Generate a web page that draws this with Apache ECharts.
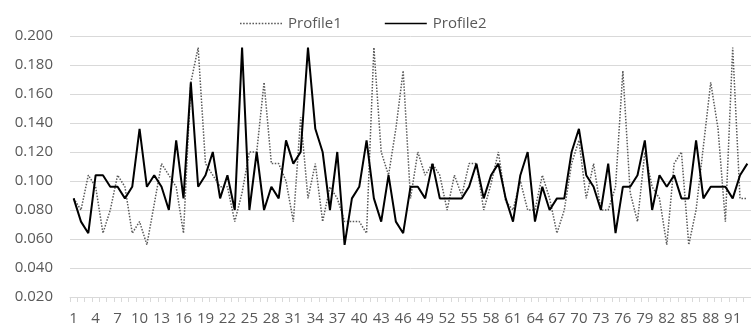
<!DOCTYPE html>
<html>
<head>
<meta charset="utf-8">
<script src="https://cdn.jsdelivr.net/npm/echarts@6/dist/echarts.min.js"></script>
<style>
html,body{margin:0;padding:0;background:#fff;}
#chart{width:751px;height:326px;}
</style>
</head>
<body>
<div id="chart"></div>
<script>
const categories = [1,2,3,4,5,6,7,8,9,10,11,12,13,14,15,16,17,18,19,20,21,22,23,24,25,26,27,28,29,30,31,32,33,34,35,36,37,38,39,40,41,42,43,44,45,46,47,48,49,50,51,52,53,54,55,56,57,58,59,60,61,62,63,64,65,66,67,68,69,70,71,72,73,74,75,76,77,78,79,80,81,82,83,84,85,86,87,88,89,90,91,92,93];

const profile1 = [0.088,0.080,0.104,0.096,0.064,0.080,0.104,0.096,0.064,0.072,
0.056,0.084,0.112,0.104,0.096,0.064,0.168,0.192,0.112,0.104,
0.096,0.096,0.072,0.092,0.120,0.120,0.168,0.112,0.112,0.100,
0.072,0.144,0.088,0.112,0.072,0.096,0.088,0.072,0.072,0.072,
0.064,0.192,0.120,0.104,0.136,0.176,0.088,0.120,0.104,0.112,
0.104,0.080,0.104,0.090,0.112,0.112,0.080,0.098,0.120,0.086,
0.080,0.100,0.080,0.080,0.104,0.088,0.064,0.080,0.112,0.128,
0.088,0.112,0.080,0.080,0.096,0.176,0.092,0.072,0.120,0.096,
0.088,0.056,0.112,0.120,0.056,0.080,0.124,0.168,0.136,0.072,
0.192,0.088,0.088];

const profile2 = [0.088,0.072,0.064,0.104,0.104,0.096,0.096,0.088,0.096,0.136,
0.096,0.104,0.096,0.080,0.128,0.088,0.168,0.096,0.104,0.120,
0.088,0.104,0.080,0.192,0.080,0.120,0.080,0.096,0.088,0.128,
0.112,0.120,0.192,0.136,0.120,0.080,0.120,0.056,0.088,0.096,
0.128,0.088,0.072,0.104,0.072,0.064,0.096,0.096,0.088,0.112,
0.088,0.088,0.088,0.088,0.096,0.112,0.088,0.104,0.112,0.088,
0.072,0.104,0.120,0.072,0.096,0.080,0.088,0.088,0.120,0.136,
0.104,0.096,0.080,0.112,0.064,0.096,0.096,0.104,0.128,0.080,
0.104,0.096,0.104,0.088,0.088,0.128,0.088,0.096,0.096,0.096,
0.088,0.104,0.112];

const yTicks = [0.020,0.040,0.060,0.080,0.100,0.120,0.140,0.160,0.180,0.200];
const seriesNames = ['Profile1','Profile2'];

const FONT = 'Open Sans';
const TXT = '#595959';
const GRID = '#d9d9d9';
const DOT_COLOR = '#595959';

// legend icons: a dotted strip and a solid strip
let dotPath = 'path://';
for (let k = 0; k < 14; k++) { dotPath += 'M' + (k*2) + ',0h1v1h-1z'; }
const solidPath = 'path://M0,0h27v1h-27z';

const chart = echarts.init(document.getElementById('chart'), null, {renderer:'canvas'});
chart.setOption({
  animation:false,
  backgroundColor:'#ffffff',
  textStyle:{fontFamily:FONT},
  legend:{
    data:[
      {name:seriesNames[0], icon:dotPath, itemStyle:{color:DOT_COLOR}},
      {name:seriesNames[1], icon:solidPath, itemStyle:{color:'#000000'}}
    ],
    left:235, top:11,
    itemWidth:42, itemHeight:2, itemGap:43,
    textStyle:{color:TXT, fontSize:15, fontFamily:FONT, padding:[0,0,0,1]}
  },
  grid:{left:70, right:0, top:36, bottom:27, containLabel:false},
  xAxis:{
    type:'category',
    data:categories,
    boundaryGap:true,
    axisLine:{show:true, lineStyle:{color:GRID, width:1}},
    axisTick:{show:true, interval:0, length:5, lineStyle:{color:GRID}},
    axisLabel:{interval:2, color:TXT, fontSize:15, fontFamily:FONT, margin:14},
    splitLine:{show:false}
  },
  yAxis:{
    type:'value',
    min:yTicks[0], max:yTicks[yTicks.length-1], interval:yTicks[1]-yTicks[0],
    axisLine:{show:false},
    axisTick:{show:false},
    axisLabel:{color:TXT, fontSize:15, fontFamily:FONT, margin:17,
      formatter:function(v){return v.toFixed(3);}},
    splitLine:{show:true, lineStyle:{color:GRID, width:1}}
  },
  series:[
    {name:seriesNames[0], type:'line', data:profile1, symbol:'none', smooth:false,
     lineStyle:{color:DOT_COLOR, width:1.5, type:[1.5,1.5]}, itemStyle:{color:DOT_COLOR}, z:2},
    {name:seriesNames[1], type:'line', data:profile2, symbol:'none', smooth:false,
     lineStyle:{color:'#000000', width:2}, itemStyle:{color:'#000000'}, z:3}
  ]
});
</script>
</body>
</html>
